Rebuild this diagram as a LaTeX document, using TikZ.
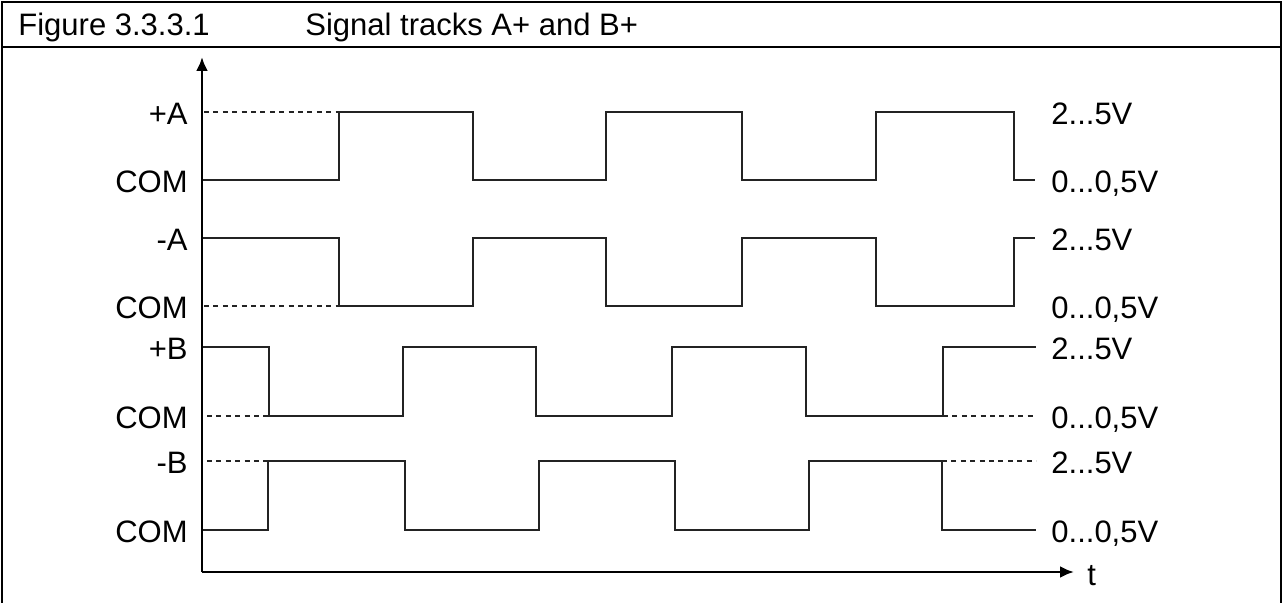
\documentclass[tikz,border=0pt]{standalone}
\usepackage{fontspec}
\setmainfont{Liberation Sans}
\usepackage{xcolor}
\definecolor{sgline}{RGB}{35,35,35}
\usepackage{tikz}
\usetikzlibrary{arrows.meta}
\tikzset{
  sig/.style={line width=0.75pt,draw=sgline,line join=miter},
  sigdash/.style={line width=0.6pt,draw=sgline,dash pattern=on 2.5pt off 2.2pt},
  lbl/.style={font=\fontsize{15.5}{18}\selectfont,inner sep=0pt,text height=11pt,text depth=0pt},
}
\newcommand{\levl}[3]{\node[lbl,anchor=east] (#1) at (188,#2) {#3};}
\newcommand{\volt}[3]{\node[lbl,anchor=west] (#1) at (1051,#2) {#3};}

\begin{document}
\begin{tikzpicture}[x=0.5pt,y=-0.5pt]
\useasboundingbox (0,0) rectangle (1284,603);
% ---- rahmen und kopfzeile ----
\draw[line width=1pt] (2,606) -- (2,2) -- (1281,2) -- (1281,606);
\draw[line width=1pt] (2,47) -- (1281,47);
\node[lbl,anchor=west] (fignr) at (18,25) {Figure 3.3.3.1};
\node[lbl,anchor=west] (figtit) at (305,25) {Signal tracks A+ and B+};
% ---- achsen ----
\draw[line width=1.4pt,-{Latex[length=7pt,width=6pt]}] (202,572) -- (202,57);
\draw[line width=1.4pt,-{Latex[length=7pt,width=6pt]}] (202,572) -- (1074,572);
\node[lbl,anchor=west] (tax) at (1087,574) {t};
% ---- pegel links ----
\levl{pa}{114}{+A}
\levl{pac}{182}{COM}
\levl{ma}{240}{-A}
\levl{mac}{308}{COM}
\levl{pb}{349}{+B}
\levl{pbc}{418}{COM}
\levl{mb}{463}{-B}
\levl{mbc}{532}{COM}
% ---- spannungen rechts ----
\volt{va1}{114}{2...5V}
\volt{va2}{182}{0...0,5V}
\volt{va3}{240}{2...5V}
\volt{va4}{308}{0...0,5V}
\volt{vb1}{349}{2...5V}
\volt{vb2}{418}{0...0,5V}
\volt{vb3}{463}{2...5V}
\volt{vb4}{532}{0...0,5V}
% spur +A
\draw[sigdash] (204,112) -- (339,112);
\draw[sig] (203,180) -- (339,180) -- (339,112) -- (473,112) -- (473,180) -- (606,180) -- (606,112)
  -- (742,112) -- (742,180) -- (876,180) -- (876,112) -- (1014,112) -- (1014,180) -- (1035,180);
% spur -A
\draw[sigdash] (204,306) -- (339,306);
\draw[sig] (203,238) -- (339,238) -- (339,306) -- (473,306) -- (473,238) -- (606,238) -- (606,306)
  -- (742,306) -- (742,238) -- (876,238) -- (876,306) -- (1014,306) -- (1014,238) -- (1035,238);
% spur +B
\draw[sigdash] (207,416) -- (269,416);
\draw[sigdash] (943,416) -- (1036,416);
\draw[sig] (203,347) -- (269,347) -- (269,416) -- (403,416) -- (403,347) -- (536,347) -- (536,416)
  -- (672,416) -- (672,347) -- (806,347) -- (806,416) -- (943,416) -- (943,347) -- (1036,347);
% spur -B
\draw[sigdash] (207,461) -- (268,461);
\draw[sigdash] (942,461) -- (1036,461);
\draw[sig] (203,530) -- (268,530) -- (268,461) -- (405,461) -- (405,530) -- (539,530) -- (539,461)
  -- (675,461) -- (675,530) -- (809,530) -- (809,461) -- (942,461) -- (942,530) -- (1036,530);
\end{tikzpicture}
\end{document}
